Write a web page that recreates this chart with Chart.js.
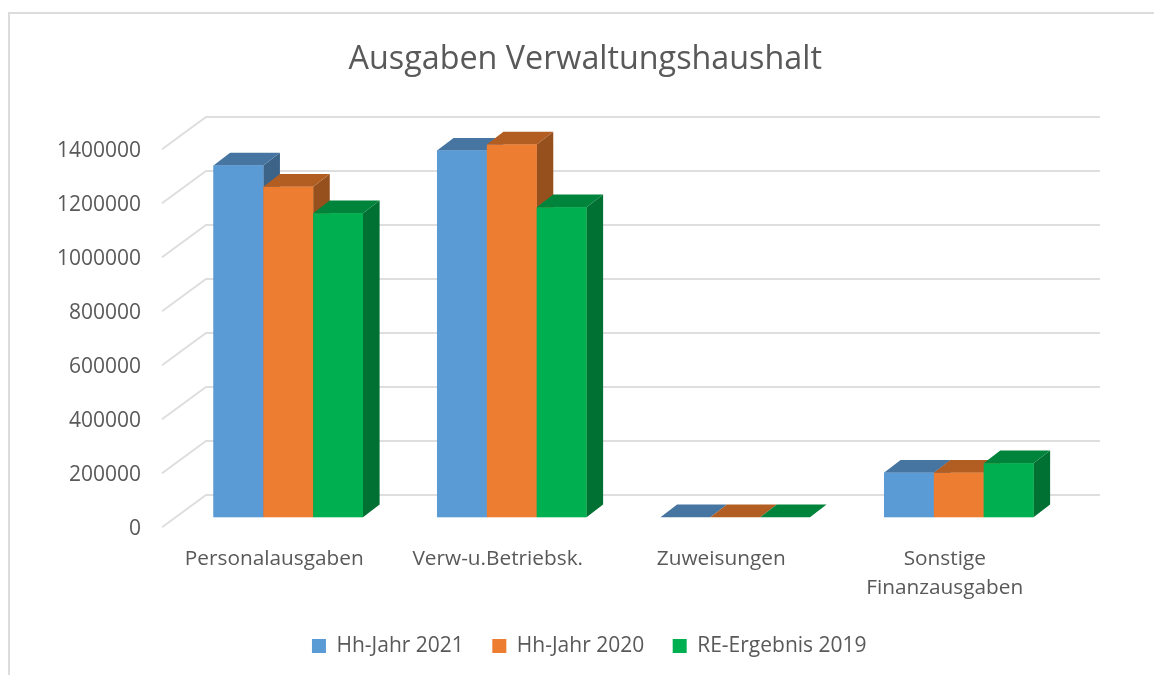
<!DOCTYPE html>
<html lang="de">
<head>
    <meta charset="UTF-8">
    <title>Ausgaben Verwaltungshaushalt</title>
    <script src="https://cdnjs.cloudflare.com/ajax/libs/Chart.js/4.4.1/chart.umd.min.js"></script>
    <style>
        html, body { margin: 0; padding: 0; background: #fff; overflow: hidden; }
        #frame { position: absolute; left: 8px; top: 12px; right: 0; bottom: 0; border-left: 2px solid #dcdcdc; border-top: 2px solid #dcdcdc; }
        canvas { position: absolute; left: 0; top: 0; display: block; }
    </style>
</head>
<body>
    <div id="frame"></div>
    <canvas id="costChart" width="1154" height="675"></canvas>

    <script>
        const categories = ['Personalausgaben', 'Verw-u.Betriebsk.', 'Zuweisungen', ['Sonstige', 'Finanzausgaben']];
        const seriesNames = ['Hh-Jahr 2021', 'Hh-Jahr 2020', 'RE-Ergebnis 2019'];
        const hh2021 = [1303000, 1358000, 500, 165000];
        const hh2020 = [1224000, 1381000, 500, 165000];
        const re2019 = [1126000, 1148000, 500, 200000];
        const seriesValues = [hh2021, hh2020, re2019];
        const frontColors = ['#5B9BD5', '#ED7D31', '#00B050'];
        const topColors = ['#4675A1', '#B25E22', '#00843C'];
        const sideColors = ['#3C6489', '#96501D', '#007033'];

        // depth of the fake 3d box, in pixels
        const depthX = 16.6;
        const depthY = 12.7;

        function poly(ctx, color, pts) {
            ctx.fillStyle = color;
            ctx.beginPath();
            pts.forEach((p, i) => i ? ctx.lineTo(p[0], p[1]) : ctx.moveTo(p[0], p[1]));
            ctx.closePath();
            ctx.fill();
        }

        const box3d = {
            id: 'box3d',
            // title and legend are centred on the whole chart, not on the plot area
            afterLayout(chart) {
                chart.titleBlock.left += 42;
                chart.titleBlock.right += 42;
                chart.legend.left += 46;
                chart.legend.right += 46;
            },
            // floor and back wall lines, one per y tick
            beforeDatasetsDraw(chart) {
                const ctx = chart.ctx;
                const y = chart.scales.y;
                const area = chart.chartArea;
                ctx.save();
                ctx.strokeStyle = '#dedede';
                ctx.lineWidth = 2;
                y.ticks.forEach(t => {
                    const py = y.getPixelForValue(t.value);
                    ctx.beginPath();
                    ctx.moveTo(area.left - 14.5, py + 10);
                    ctx.lineTo(area.left + 29.5, py - 22.3);
                    ctx.lineTo(area.right + 29.5, py - 22.3);
                    ctx.stroke();
                });
                ctx.restore();
            },
            // redraw left to right so every front covers its left neighbour's side
            afterDatasetsDraw(chart) {
                const ctx = chart.ctx;
                ctx.save();
                seriesValues.forEach((vals, i) => {
                    chart.getDatasetMeta(i).data.forEach(bar => {
                        const p = bar.getProps(['x', 'y', 'base', 'width'], true);
                        const l = p.x - p.width / 2;
                        const r = p.x + p.width / 2;
                        poly(ctx, sideColors[i], [[r, p.y], [r + depthX, p.y - depthY], [r + depthX, p.base - depthY], [r, p.base]]);
                        poly(ctx, topColors[i], [[l, p.y], [l + depthX, p.y - depthY], [r + depthX, p.y - depthY], [r, p.y]]);
                        bar.draw(ctx);
                    });
                });
                ctx.restore();
            }
        };

        new Chart(document.getElementById('costChart'), {
            type: 'bar',
            data: {
                labels: categories,
                datasets: seriesNames.map((name, i) => ({
                    label: name,
                    data: seriesValues[i],
                    backgroundColor: frontColors[i],
                    categoryPercentage: 0.669,
                    barPercentage: 1
                }))
            },
            plugins: [box3d],
            options: {
                responsive: false,
                animation: false,
                layout: { autoPadding: false, padding: { left: 16, right: 83.5, top: 0, bottom: 8.5 } },
                scales: {
                    x: {
                        afterFit: s => { s.height = 89.7; },
                        grid: { display: false, drawTicks: false },
                        border: { display: false },
                        ticks: {
                            color: '#595959',
                            font: { family: '"Open Sans"', size: 20.8, lineHeight: 1.4 },
                            padding: 27,
                            labelOffset: -14,
                            maxRotation: 0,
                            autoSkip: false
                        }
                    },
                    y: {
                        min: 0,
                        max: 1400000,
                        afterFit: s => { s.width = 160.5; },
                        grid: { display: false, drawTicks: false },
                        border: { display: false },
                        ticks: {
                            stepSize: 200000,
                            color: '#595959',
                            font: { family: '"Open Sans"', size: 21 },
                            padding: 35.5,
                            labelOffset: 12,
                            callback: v => String(v)
                        }
                    }
                },
                plugins: {
                    title: {
                        display: true,
                        text: 'Ausgaben Verwaltungshaushalt',
                        color: '#595959',
                        font: { family: '"Open Sans"', size: 32.3, weight: 'normal' },
                        padding: { top: 40, bottom: 60.5 }
                    },
                    legend: {
                        position: 'bottom',
                        labels: {
                            color: '#595959',
                            font: { family: '"Open Sans"', size: 21 },
                            boxWidth: 14,
                            boxHeight: 14,
                            padding: 28.5
                        }
                    },
                    tooltip: { enabled: false }
                }
            }
        });
    </script>
</body>
</html>
